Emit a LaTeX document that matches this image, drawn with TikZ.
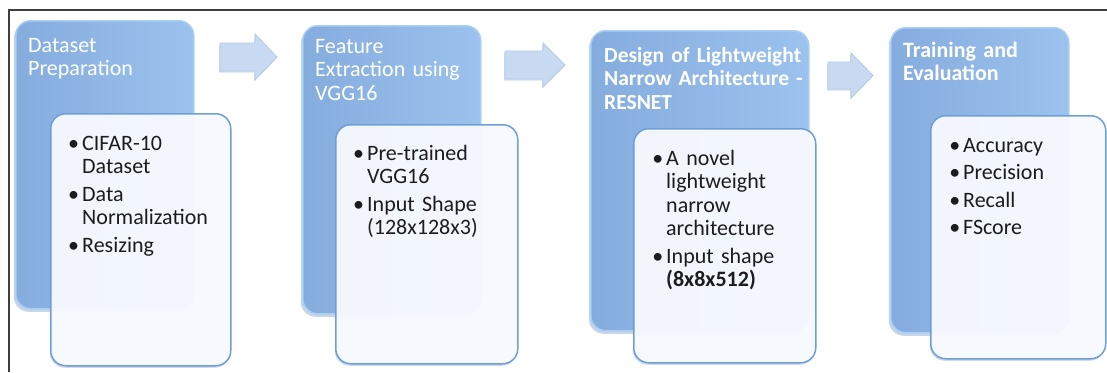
\documentclass[tikz,border=0pt]{standalone}
\usepackage{fontspec}
\setmainfont{Carlito}
\usetikzlibrary{shadows}
\definecolor{frameC}{HTML}{3F3F3F}
\definecolor{blueL}{HTML}{84ACDD}
\definecolor{blueR}{HTML}{9CC2EE}
\definecolor{blueEdge}{HTML}{AACFF7}
\definecolor{blueShadow}{HTML}{5F87B8}
\definecolor{whiteEdge}{HTML}{6E9ED8}
\definecolor{whiteFill}{HTML}{F9FBFF}
\definecolor{arrFill}{HTML}{C8DAF2}
\definecolor{arrEdge}{HTML}{B3C9E8}
\definecolor{txt}{HTML}{1C1C1C}
\newcommand\bul{\leavevmode\llap{•\hspace{3pt}}}
\newcommand\itemgap{\par\vspace{4pt}}
\tikzset{
  frameline/.style={draw=frameC, line width=1.5pt},
  bluebox/.style={rectangle, rounded corners=15pt, left color=blueL, right color=blueR,
    draw=blueEdge, line width=1.5pt, anchor=north west, inner sep=0pt,
    drop shadow={shadow xshift=-2pt, shadow yshift=-3pt, opacity=0.35, fill=blueShadow}},
  whitebox/.style={rectangle, rounded corners=15pt, fill=whiteFill, fill opacity=0.95,
    draw=whiteEdge, draw opacity=1, line width=1.5pt, anchor=north west, inner sep=0pt,
    drop shadow={shadow xshift=-1pt, shadow yshift=-2pt, opacity=0.3, fill=blueShadow}},
  headtext/.style={anchor=base west, inner sep=0pt, text=white, text width=#1,
    align=left, font=\fontsize{22}{23.5}\selectfont},
  itemtext/.style={anchor=base west, inner sep=0pt, text=txt, text width=#1,
    align=left, font=\fontsize{22}{23.5}\selectfont},
  blockarr/.style={fill=arrFill, draw=arrEdge, line width=0.8pt, line join=miter,
    drop shadow={shadow xshift=-1pt, shadow yshift=-1.5pt, opacity=0.25, fill=blueShadow}}
}
\begin{document}
\begin{tikzpicture}[x=1pt,y=-1pt]
\useasboundingbox (0,0) rectangle (1107,372);
\fill[white] (0,0) rectangle (1107,372);
\coordinate (fbl) at (9,372);
\coordinate (ftl) at (9,10);
\coordinate (ftr) at (1107,10);
\draw[frameline] (fbl) -- (ftl) -- (ftr);

% arrows
\path[blockarr] (220,43) -- (255,43) -- (255,34) -- (277,57) -- (255,80) -- (255,71) -- (220,71) -- cycle;
\path[blockarr] (505,51) -- (543,51) -- (543,43) -- (565,65) -- (543,87) -- (543,79) -- (505,79) -- cycle;
\path[blockarr] (828,62) -- (851,62) -- (851,53) -- (873,75.5) -- (851,98) -- (851,89) -- (828,89) -- cycle;

% stage 1
\node[bluebox, minimum width=178pt, minimum height=288pt] (b1) at (15,20) {};
\node[headtext=160pt] (h1) at (28,52) {Dataset\\Preparation};
\node[whitebox, minimum width=180pt, minimum height=252pt] (w1) at (50,113) {};
\node[itemtext=145pt] (t1) at (82,150) {\bul CIFAR-10\\Dataset\itemgap\bul Data\\Normalization\itemgap\bul Resizing};

% stage 2
\node[bluebox, minimum width=178pt, minimum height=288pt] (b2) at (302,25) {};
\node[headtext=165pt] (h2) at (315,53) {Feature\\Extraction using\\VGG16};
\node[whitebox, minimum width=182pt, minimum height=239pt] (w2) at (335,124) {};
\node[itemtext=145pt] (t2) at (367,160) {\bul Pre-trained\\VGG16\itemgap\bul Input Shape\\(128x128x3)};

% stage 3
\node[bluebox, minimum width=218pt, minimum height=300pt] (b3) at (590,30) {};
\node[headtext=210pt, font=\fontsize{21.5}{23.5}\selectfont] (h3) at (604,62) {\bfseries Design of Lightweight\\Narrow Architecture -\\RESNET};
\node[whitebox, minimum width=182pt, minimum height=234pt] (w3) at (633,128) {};
\node[itemtext=145pt] (t3) at (666,165) {\bul A novel\\lightweight\\narrow\\architecture\itemgap\bul Input shape\\\textbf{(8x8x512)}};

% stage 4
\node[bluebox, minimum width=178pt, minimum height=305pt] (b4) at (890,27) {};
\node[headtext=160pt] (h4) at (903,57) {\bfseries Training and\\Evaluation};
\node[whitebox, minimum width=175pt, minimum height=243pt] (w4) at (930,115) {};
\node[itemtext=130pt] (t4) at (963,152) {\bul Accuracy\itemgap\bul Precision\itemgap\bul Recall\itemgap\bul FScore};
\end{tikzpicture}
\end{document}
